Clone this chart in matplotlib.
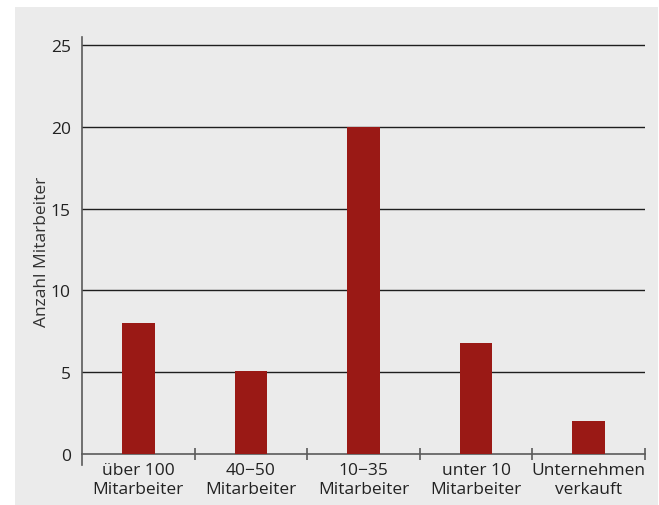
import numpy as np
import matplotlib
matplotlib.use("Agg")
import matplotlib.pyplot as plt
from matplotlib.patches import Rectangle

# Daten
categories = ["über 100\nMitarbeiter", "40−50\nMitarbeiter", "10−35\nMitarbeiter",
              "unter 10\nMitarbeiter", "Unternehmen\nverkauft"]
values = [8, 5.05, 20, 6.8, 2]
y_ticks = [0, 5, 10, 15, 20, 25]

bar_color = "#9a1915"
bg_color = "#ebebeb"
grid_color = "#1e1e1e"
axis_color = "#5a5a5a"
text_color = "#222222"

plt.rcParams["font.family"] = ["Open Sans", "DejaVu Sans"]

fig = plt.figure(figsize=(6.59, 5.06), dpi=100)
fig.patch.set_facecolor("white")
fig.patches.append(Rectangle((15 / 659, 0), 1 - 16 / 659, 1 - 8 / 506,
                             transform=fig.transFigure, facecolor=bg_color,
                             edgecolor="none", zorder=-10))

ax = fig.add_axes([82 / 659, 40 / 506, 563 / 659, 428 / 506])
ax.set_facecolor("none")

x = np.arange(len(categories))
ax.bar(x, values, width=0.29, color=bar_color, zorder=3)

# horizontale Linien
for t in y_ticks[1:]:
    ax.axhline(t, color=grid_color, lw=1.0, zorder=2)

ax.set_xlim(-0.5, len(categories) - 0.5)
ax.set_ylim(-0.68, 25.5)

for s in ["top", "right"]:
    ax.spines[s].set_visible(False)
ax.spines["bottom"].set_position(("data", 0))
ax.spines["bottom"].set_color(axis_color)
ax.spines["bottom"].set_linewidth(1.2)
ax.spines["left"].set_color(axis_color)
ax.spines["left"].set_linewidth(1.2)

ax.set_yticks(y_ticks)
ax.set_yticklabels([str(t) for t in y_ticks])
ax.tick_params(axis="y", length=0, pad=8, labelsize=12.5, labelcolor=text_color)

ax.set_xticks(x)
ax.set_xticklabels(categories, fontsize=12.5, color=text_color, linespacing=1.25)
ax.set_xticks(np.arange(len(categories)) + 0.5, minor=True)
ax.tick_params(axis="x", which="major", length=0, pad=6)
ax.tick_params(axis="x", which="minor", length=8, direction="inout",
               width=1.2, color=axis_color)

ax.set_ylabel("Anzahl Mitarbeiter", fontsize=12.5, color="#333333", labelpad=1)

fig.savefig("out.png", dpi=100)
